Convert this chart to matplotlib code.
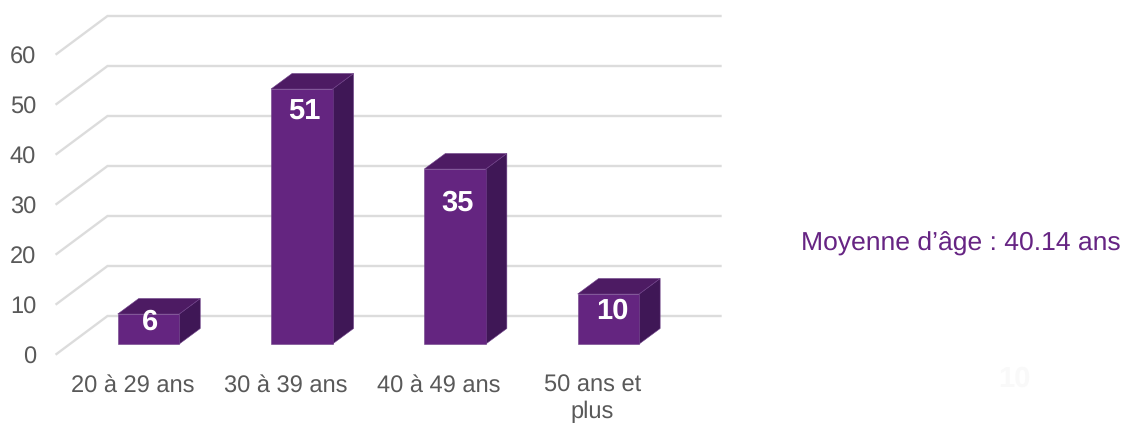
import matplotlib
matplotlib.use("Agg")
import matplotlib.pyplot as plt
from matplotlib.patches import Polygon

plt.rcParams['font.family'] = ['Liberation Sans', 'DejaVu Sans']
plt.rcParams['text.hinting'] = 'none'
plt.rcParams['text.hinting_factor'] = 8

categories = ["20 à 29 ans", "30 à 39 ans", "40 à 49 ans", "50 ans et\nplus"]
values = [6, 51, 35, 10]
y_ticks = [0, 10, 20, 30, 40, 50, 60]
note = "Moyenne d’âge : 40.14 ans"
ghost_label = "10"

W, H = 1124, 423
PX_X = 153.3      # pixels per category
PX_Y = 5.0        # pixels per value unit
X0, Y0 = 149.0, 354.0  # pixel position of category 0 centre / value 0

fig = plt.figure(figsize=(W / 100, H / 100), dpi=100, facecolor="white")
ax = fig.add_axes([0, 0, 1, 1])
ax.set_xlim((0.5 - X0) / PX_X, (W + 0.5 - X0) / PX_X)
ax.set_ylim((Y0 - H) / PX_Y, Y0 / PX_Y)
ax.axis("off")

def px(x): return x / PX_X   # pixel length -> category units
def py(y): return y / PX_Y   # pixel length -> value units

GRID = "#dcdcdc"
TEXT = "#595959"
FRONT, TOP, SIDE = "#642580", "#4d1b63", "#3f1756"

wall_left = (57 - X0) / PX_X
wall_dx, wall_dy = px(51), py(38)
wall_right = (721 - X0) / PX_X

for t in y_ticks:
    ax.plot([wall_left, wall_left + wall_dx, wall_right],
            [t, t + wall_dy, t + wall_dy],
            color=GRID, lw=1.7, solid_joinstyle="miter", zorder=1)
    ax.text((36.5 - X0) / PX_X, t - py(1), str(t), ha="right", va="center_baseline",
            fontsize=17, color=TEXT)

bar_w = px(61.5)
lift = py(10)
dep_x, dep_y = px(21), py(15.5)
label_drop = [5, 20, 31, 14]
label_dx = [2, 3, 2, 4]
edge = dict(edgecolor="#6f4189", linewidth=0.4)

for i, (cat, v) in enumerate(zip(categories, values)):
    x0 = i - bar_w / 2
    x1 = i + bar_w / 2
    y0 = lift
    y1 = lift + v
    ax.add_patch(Polygon([(x1, y0), (x1 + dep_x, y0 + dep_y), (x1 + dep_x, y1 + dep_y), (x1, y1)],
                         closed=True, facecolor=SIDE, zorder=3, **edge))
    ax.add_patch(Polygon([(x0, y1), (x0 + dep_x, y1 + dep_y), (x1 + dep_x, y1 + dep_y), (x1, y1)],
                         closed=True, facecolor=TOP, zorder=3, **edge))
    ax.bar(i, v, width=bar_w, bottom=lift, color=FRONT, zorder=4, **edge)
    ax.text(i + px(label_dx[i]), y1 - py(label_drop[i]), str(v), ha="center",
            va="center_baseline", fontsize=21, fontweight="bold", color="white", zorder=5)
    ax.text(i - px(16), py(Y0 - 374), cat, ha="center", va="top",
            fontsize=17, color=TEXT, linespacing=1.26, zorder=5)

ax.text((1121 - X0) / PX_X, (Y0 - 241) / PX_Y, note, ha="right", va="center_baseline",
        fontsize=19.05, color="#662483")
ax.text((1015 - X0) / PX_X, (Y0 - 376) / PX_Y, ghost_label, ha="center", va="center_baseline",
        fontsize=21, fontweight="bold", color="#f9f9f9")

fig.savefig("out.png", dpi=100, facecolor="white")
